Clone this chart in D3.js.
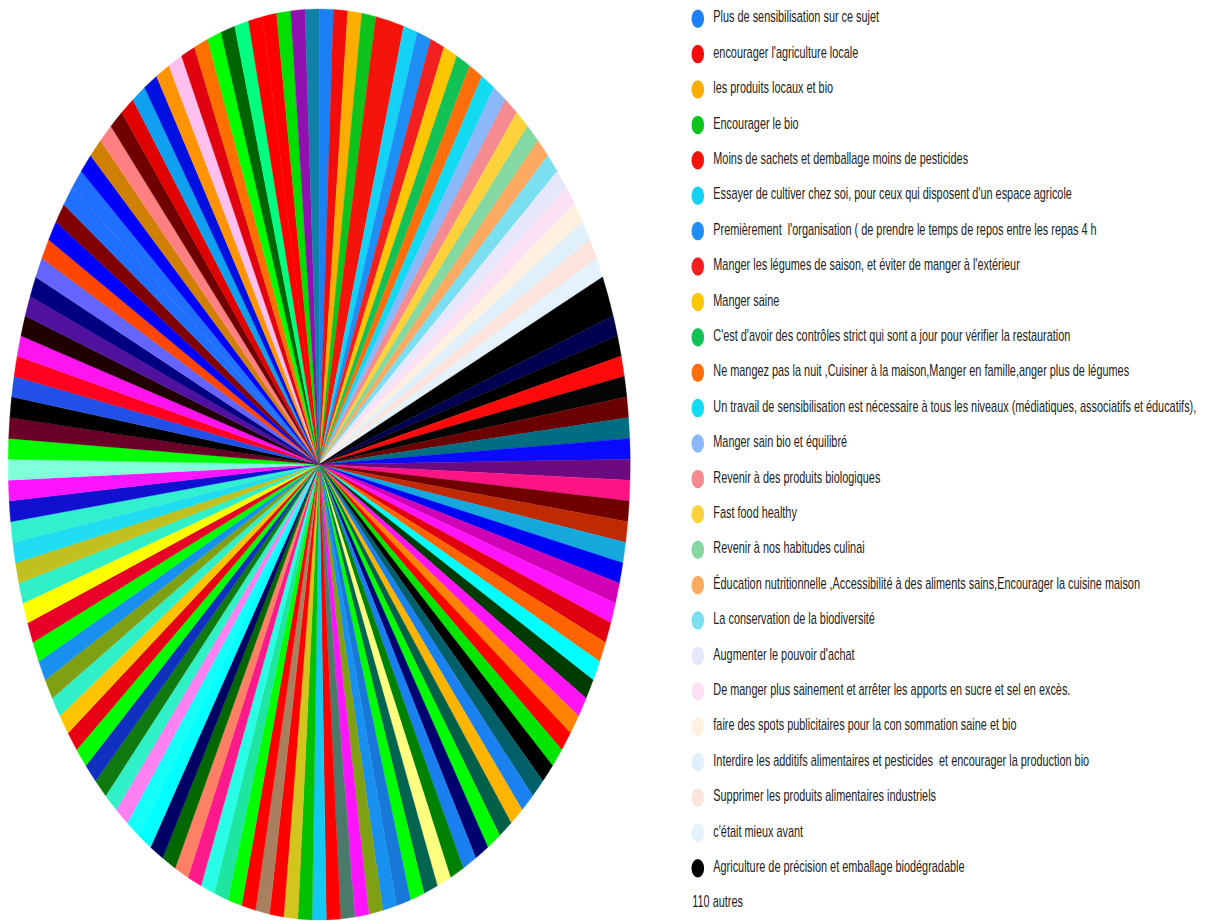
<!DOCTYPE html>
<html>
<head>
<meta charset="utf-8">
<script src="https://cdn.jsdelivr.net/npm/d3@7"></script>
<style>
  html, body { margin: 0; padding: 0; background: #fff; }
  svg { display: block; }
  text { white-space: pre; }
</style>
</head>
<body>
<svg id="chart" width="1209" height="921"></svg>
<script>
// Named answers shown in the legend (in slice order, clockwise from 12 o'clock)
const namedLabels = [
  "Plus de sensibilisation sur ce sujet",
  "encourager l'agriculture locale",
  "les produits locaux et bio",
  "Encourager le bio",
  "Moins de sachets et demballage moins de pesticides",
  "Essayer de cultiver chez soi, pour ceux qui disposent d'un espace agricole",
  "Premièrement  l'organisation ( de prendre le temps de repos entre les repas 4 h",
  "Manger les légumes de saison, et éviter de manger à l'extérieur",
  "Manger saine",
  "C'est d'avoir des contrôles strict qui sont a jour pour vérifier la restauration",
  "Ne mangez pas la nuit ,Cuisiner à la maison,Manger en famille,anger plus de légumes",
  "Un travail de sensibilisation est nécessaire à tous les niveaux (médiatiques, associatifs et éducatifs),",
  "Manger sain bio et équilibré",
  "Revenir à des produits biologiques",
  "Fast food healthy",
  "Revenir à nos habitudes culinai",
  "Éducation nutritionnelle ,Accessibilité à des aliments sains,Encourager la cuisine maison",
  "La conservation de la biodiversité",
  "Augmenter le pouvoir d'achat",
  "De manger plus sainement et arrêter les apports en sucre et sel en excès.",
  "faire des spots publicitaires pour la con sommation saine et bio",
  "Interdire les additifs alimentaires et pesticides  et encourager la production bio",
  "Supprimer les produits alimentaires industriels",
  "c'était mieux avant",
  "Agriculture de précision et emballage biodégradable"
];
const namedValues = [1, 1, 1, 1, 2, 1, 1, 1, 1, 1, 1, 1, 1, 1, 1, 1, 1, 1, 1, 1, 1, 1, 1, 1, 2];
const namedColors = [
  "#1a80f4", "#f20c0c", "#fbae00", "#0cc41c", "#f4140a", "#14d2f6", "#1f8ef5", "#f42020",
  "#fcc600", "#12c256", "#ff6e0a", "#12daf2", "#8ab8f8", "#f58a90", "#fdd23a", "#84d8a2",
  "#fcaa62", "#7adff0", "#e6e6fc", "#fce0f4", "#fff0e0", "#e0f0fa", "#fce4dc", "#e4f2fc",
  "#000000"
];

// Remaining answers grouped under "110 autres"
const otherLabel = "110 autres";
const otherValues = [
  1, 1, 1, 1, 1, 1, 1, 1, 1, 1, 1, 1, 1, 1, 1, 1, 1, 1, 1, 1, 1, 1,
  1, 1, 1, 1, 1, 1, 1, 1, 1, 1, 1, 1, 1, 1, 1, 1, 1, 1, 1, 1, 1, 1,
  1, 1, 1, 1, 1, 1, 1, 1, 1, 1, 1, 1, 1, 1, 1, 1, 1, 1, 1, 1, 1, 1,
  1, 1, 1, 1, 1, 1, 1, 1, 1, 1, 1, 1, 1, 1, 1, 1, 1, 1, 1, 1, 1, 1,
  1, 1, 1, 1, 1, 1, 1, 1, 1, 1, 1, 1, 1, 1, 1, 1, 1, 1, 1, 1, 1, 1
];
const otherColors = [
  "#000050", "#000000", "#ff0a0a", "#050505", "#6a0000", "#006e82", "#0a0aff", "#6c0a80",
  "#ff1485", "#700000", "#c02a00", "#14a8dc", "#0000f5", "#d000b4", "#ff14ff", "#e0000f",
  "#ff6400", "#00ffff", "#003c00", "#ff14f5", "#ff8200", "#ff0000", "#00e600", "#000000",
  "#00606a", "#1a82f0", "#ffb400", "#006048", "#00ff00", "#000070", "#1a80f0", "#008200",
  "#ffff80", "#006450", "#00ff00", "#1878d8", "#1890f0", "#80a014", "#ff14ff", "#4a7a6a",
  "#ff0000", "#14c8f0", "#00c000", "#d4c41e", "#ff0000", "#a88060", "#ff0000", "#00ff00",
  "#1ee6a0", "#28ffe6", "#ff1a8c", "#ff8064", "#006800", "#000064", "#00ffff", "#14fff8",
  "#ff80f0", "#30f0c8", "#107a10", "#1030c0", "#00ff00", "#e80014", "#ffc400", "#30f0c8",
  "#80a014", "#1890f0", "#00ff00", "#e80028", "#ffff00", "#30f0c8", "#c0c020", "#20dcf0",
  "#30f0d0", "#1010d0", "#ff14ff", "#80ffd8", "#00ff00", "#6a0028", "#000000", "#2050e8",
  "#ff0020", "#ff14f0", "#200000", "#5010a0", "#000080", "#6464ff", "#ff4600", "#0000ff",
  "#800000", "#2070ff", "#2070ff", "#0000ff", "#d08000", "#ff8080", "#700000", "#e00000",
  "#10a0f0", "#0010e0", "#ff9400", "#ffc0f0", "#e0000f", "#ff7000", "#00ff00", "#006400",
  "#00ff80", "#ff0000", "#ff0000", "#00e000", "#9010b0", "#1080a8"
];

// Build the slice table
const slices = namedValues.map((v, i) => ({ value: v, color: namedColors[i] }))
  .concat(otherValues.map((v, i) => ({ value: v, color: otherColors[i] })));

const svg = d3.select("#chart");

// Pie (an ellipse: a circle stretched vertically)
const cx = 319.2, cy = 464.5, rx = 311, ry = 455.5;
const pie = d3.pie().sort(null).value(d => d.value).startAngle(0).endAngle(2 * Math.PI);
const arc = d3.arc().innerRadius(0).outerRadius(ry);

svg.append("g")
  .attr("transform", `translate(${cx},${cy}) scale(${rx / ry},1)`)
  .selectAll("path")
  .data(pie(slices))
  .join("path")
  .attr("d", arc)
  .attr("fill", d => d.data.color)
  .attr("stroke", d => d.data.color)
  .attr("stroke-width", 0.4);

// Legend
const stretch = 1.465;
const rowY = d3.scaleLinear().domain([0, 25]).range([18.7, 903.7]);
const legend = svg.append("g").attr("font-family", "'Liberation Sans', Arial, sans-serif")
  .attr("font-size", 10.9).attr("fill", "#222");

const rows = legend.selectAll("g.row")
  .data(namedLabels)
  .join("g")
  .attr("class", "row")
  .attr("transform", (d, i) => `translate(697.8,${rowY(i)}) scale(1,${stretch})`);

rows.append("circle")
  .attr("r", 6.3)
  .attr("fill", (d, i) => namedColors[i]);

rows.append("text")
  .attr("x", 15.5)
  .attr("y", 2.5)
  .text(d => d);

legend.append("g")
  .attr("transform", `translate(697.8,${rowY(25)}) scale(1,${stretch})`)
  .append("text")
  .attr("x", -5.5)
  .attr("y", 2.5)
  .text(otherLabel);
</script>
</body>
</html>
